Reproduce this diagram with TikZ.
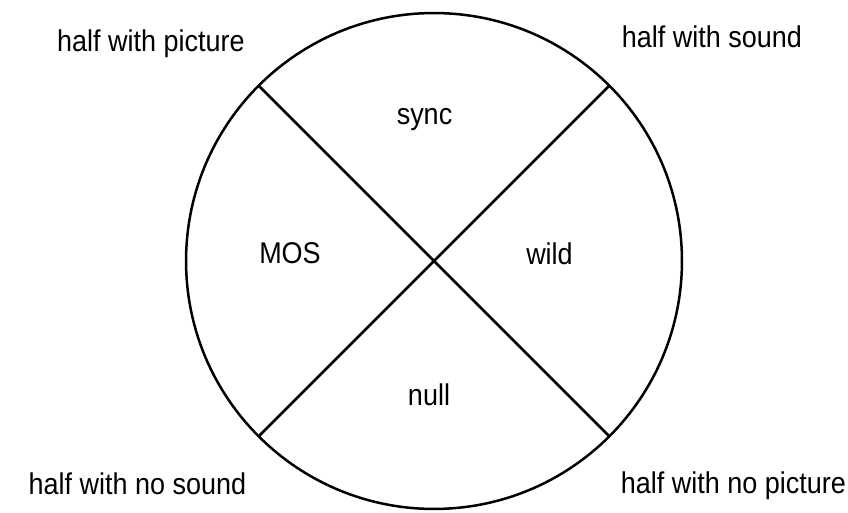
\documentclass[tikz,border=0pt]{standalone}
\usepackage{fontspec}
\setmainfont[FakeStretch=0.9]{Liberation Sans}
\usepackage{tikz}
\usetikzlibrary{positioning}

\begin{document}
\begin{tikzpicture}[
  x=0.02cm,y=-0.02cm,
  disc/.style={circle,draw,line width=0.05cm,inner sep=0pt,outer sep=0pt,minimum size=9.92cm},
  half/.style={anchor=base,font=\fontsize{17.07}{20}\selectfont,inner sep=0pt},
  part/.style={anchor=base,font=\fontsize{17.07}{20}\selectfont,inner sep=0pt},
  cut/.style={line width=0.05cm}
]
  \useasboundingbox (0,0) rectangle (848,513);
  \node[disc] (wheel) at (434,261) {};
  \draw[cut] (wheel.135) -- (wheel.-45);
  \draw[cut] (wheel.45) -- (wheel.-135);
  % the four halves
  \node[half] (hpic) at (151,52) {half with picture};
  \node[half] (hsnd) at (712,48) {half with sound};
  \node[half] (hnosnd) at (137.5,494) {half with no sound};
  \node[half] (hnopic) at (733.5,493) {half with no picture};
  % the four quarters
  \node[part] (sync) at (424.5,125) {sync};
  \node[part] (mos) at (290,263) {MOS};
  \node[part] (wild) at (549.5,264) {wild};
  \node[part] (null) at (429,405) {null};
\end{tikzpicture}
\end{document}
